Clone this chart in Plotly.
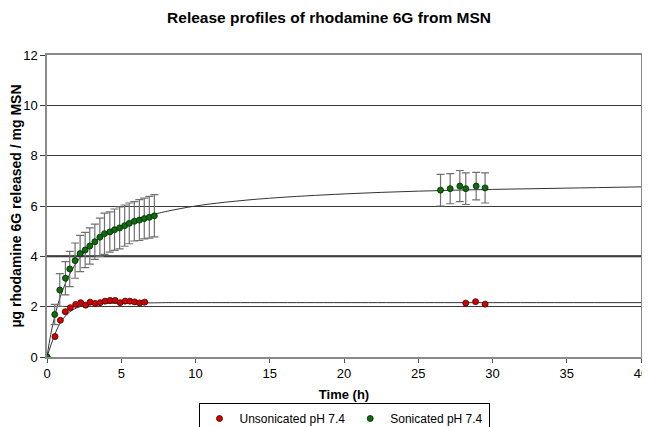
import plotly.graph_objects as go

# ---- data ----
unson_time = [0, 0.54, 0.90, 1.23, 1.57, 1.93, 2.27, 2.61, 2.90, 3.24, 3.58, 3.91, 4.25,
              4.59, 4.93, 5.26, 5.58, 5.90, 6.24, 6.58, 28.2, 28.86, 29.5]
unson_release = [0, 0.81, 1.46, 1.80, 1.96, 2.09, 2.16, 2.06, 2.18, 2.13, 2.16, 2.22, 2.25,
                 2.25, 2.16, 2.22, 2.22, 2.19, 2.15, 2.18, 2.14, 2.20, 2.10]

son_time = [0, 0.52, 0.86, 1.24, 1.53, 1.89, 2.23, 2.57, 2.88, 3.22, 3.56, 3.87, 4.23,
            4.55, 4.89, 5.23, 5.54, 5.88, 6.22, 6.55, 6.89, 7.23,
            26.5, 27.15, 27.8, 28.2, 28.9, 29.5]
son_release = [0, 1.69, 2.66, 3.13, 3.50, 3.83, 4.11, 4.25, 4.41, 4.58, 4.76, 4.90, 4.97,
               5.06, 5.13, 5.22, 5.31, 5.39, 5.44, 5.50, 5.55, 5.61,
               6.63, 6.69, 6.79, 6.69, 6.79, 6.72]
son_error = [0, 0.40, 0.65, 0.66, 0.70, 0.70, 0.72, 0.70, 0.72, 0.70, 0.76, 0.82, 0.80,
             0.82, 0.83, 0.82, 0.81, 0.78, 0.81, 0.81, 0.83, 0.84,
             0.63, 0.60, 0.62, 0.63, 0.55, 0.60]

# fitted trend curves as they appear in the picture
son_fit_time = [0, 0.25, 0.5, 0.75, 1, 1.5, 2, 2.5, 3, 4, 5, 6, 7, 8, 10, 12, 15, 20, 25, 30, 35, 40]
son_fit_value = [0, 0.89, 1.57, 2.12, 2.57, 3.26, 3.77, 4.15, 4.46, 4.91, 5.22, 5.46, 5.64,
                 5.78, 6.00, 6.15, 6.31, 6.48, 6.59, 6.66, 6.71, 6.76]
unson_fit_time = [0, 0.25, 0.5, 0.75, 1, 1.5, 2, 2.5, 3, 4, 5, 6, 7, 8, 10, 15, 20, 30, 40]
unson_fit_value = [0, 0.45, 0.85, 1.20, 1.45, 1.78, 1.95, 2.04, 2.09, 2.13, 2.14, 2.15, 2.15,
                   2.16, 2.16, 2.16, 2.16, 2.16, 2.16]

x_ticks = [0, 5, 10, 15, 20, 25, 30, 35, 40]
y_ticks = [0, 2, 4, 6, 8, 10, 12]

FONT = "Liberation Sans, Arial, sans-serif"

# the page body adds an 8px offset, so the figure is 8px smaller
W, H = 642, 419

fig = go.Figure()

fig.add_trace(go.Scatter(x=son_fit_time, y=son_fit_value, mode="lines",
                         line=dict(color="#333333", width=1, shape="spline"),
                         showlegend=False, hoverinfo="skip"))
fig.add_trace(go.Scatter(x=unson_fit_time, y=unson_fit_value, mode="lines",
                         line=dict(color="#333333", width=1, shape="spline"),
                         showlegend=False, hoverinfo="skip"))

fig.add_trace(go.Scatter(x=unson_time, y=unson_release, mode="markers",
                         name="Unsonicated pH 7.4",
                         marker=dict(color="#d40000", size=6,
                                     line=dict(color="#3a0000", width=0.8))))
fig.add_trace(go.Scatter(x=son_time, y=son_release, mode="markers",
                         name="Sonicated pH 7.4",
                         error_y=dict(type="data", array=son_error, visible=True,
                                      color="#707070", thickness=1.2, width=4),
                         marker=dict(color="#0e6b0e", size=6,
                                     line=dict(color="#002800", width=0.8))))

# the gridline at 4 is drawn heavier in the original
fig.add_shape(type="line", xref="paper", x0=0, x1=1, yref="y",
              y0=y_ticks[2], y1=y_ticks[2], layer="below",
              line=dict(color="#1e1e1e", width=2))

fig.update_layout(
    width=W, height=H,
    margin=dict(l=39, r=9, t=47, b=70),
    paper_bgcolor="white", plot_bgcolor="white",
    font=dict(family=FONT, size=13, color="black"),
    title=dict(text="<b>Release profiles of rhodamine 6G from MSN</b>",
               x=0.5, xanchor="center", xref="container",
               y=1 - 10 / H, yanchor="middle", yref="container",
               font=dict(family=FONT, size=15.5, color="black")),
    legend=dict(orientation="h", x=0.5, xanchor="center", xref="paper",
                y=1 - 395 / H, yanchor="top", yref="container",
                bordercolor="black", borderwidth=1, bgcolor="white",
                font=dict(family=FONT, size=12, color="black"),
                itemwidth=30, tracegroupgap=0),
    showlegend=True,
)

fig.update_xaxes(range=[0, 40], tickvals=x_ticks, showgrid=False, zeroline=False,
                 automargin=False, ticklabeloverflow="allow",
                 showline=True, linecolor="#8a8a8a", linewidth=1.5, mirror=True,
                 ticks="outside", ticklen=4, tickcolor="#555555",
                 tickfont=dict(family=FONT, size=13, color="black"),
                 title=dict(text="<b>Time (h)</b>", standoff=10,
                            font=dict(family=FONT, size=13, color="black")))
fig.update_yaxes(range=[0, 12], tickvals=y_ticks, showgrid=True, gridcolor="#3c3c3c",
                 gridwidth=1, zeroline=False, automargin=False,
                 showline=True, linecolor="#8a8a8a", linewidth=1.5, mirror=True,
                 ticks="outside", ticklen=5, tickcolor="#3c3c3c",
                 tickfont=dict(family=FONT, size=13, color="black"),
                 title=dict(text="<b>µg rhodamine 6G released / mg MSN</b>", standoff=0,
                            font=dict(family=FONT, size=14, color="black")))

fig.write_html("out.html")
